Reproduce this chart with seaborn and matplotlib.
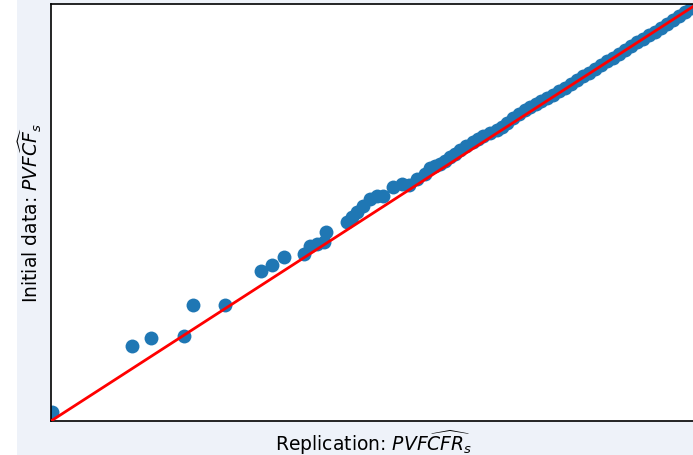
import matplotlib
matplotlib.use("Agg")
import matplotlib.pyplot as plt
import seaborn as sns
import pandas as pd
from matplotlib.patches import Rectangle

# Quantiles (normalised units, axis range 0..1)
replication_q = [0.0015, 0.125, 0.155, 0.206, 0.220, 0.270, 0.325, 0.342, 0.360, 0.391,
                 0.401, 0.411, 0.422, 0.426, 0.458, 0.466, 0.473, 0.483, 0.494, 0.505,
                 0.514, 0.529, 0.543, 0.554, 0.566, 0.579, 0.587, 0.594, 0.602, 0.610,
                 0.617, 0.625, 0.633, 0.642, 0.653, 0.661, 0.669, 0.680, 0.690, 0.698,
                 0.706, 0.715, 0.724, 0.734, 0.741, 0.751, 0.758, 0.768, 0.777, 0.786,
                 0.796, 0.805, 0.814, 0.824, 0.833, 0.842, 0.851, 0.861, 0.870, 0.879,
                 0.889, 0.898, 0.907, 0.916, 0.926, 0.935, 0.944, 0.954, 0.963, 0.972,
                 0.981, 0.991, 1.000]
initial_q = [0.022, 0.179, 0.200, 0.205, 0.278, 0.279, 0.359, 0.375, 0.393, 0.401,
             0.420, 0.424, 0.430, 0.454, 0.478, 0.489, 0.501, 0.516, 0.532, 0.540,
             0.540, 0.561, 0.568, 0.566, 0.580, 0.592, 0.607, 0.612, 0.616, 0.624,
             0.633, 0.640, 0.650, 0.659, 0.669, 0.676, 0.683, 0.691, 0.698, 0.705,
             0.715, 0.727, 0.736, 0.746, 0.753, 0.760, 0.767, 0.775, 0.782, 0.791,
             0.799, 0.808, 0.818, 0.827, 0.835, 0.844, 0.854, 0.863, 0.871, 0.880,
             0.890, 0.899, 0.909, 0.916, 0.926, 0.933, 0.942, 0.952, 0.962, 0.971,
             0.981, 0.990, 0.998]
line_ends = [0.0, 1.0]

df = pd.DataFrame({"rep": replication_q, "init": initial_q})

fig = plt.figure(figsize=(6.93, 4.56), dpi=100)
fig.patch.set_facecolor("#eef2f9")
fig.patches.append(Rectangle((0, 0), 17 / 693, 1, transform=fig.transFigure,
                             facecolor="white", edgecolor="none", zorder=-10))

ax = fig.add_axes([51 / 693, 34 / 456, 646 / 693, 417 / 456])
ax.set_facecolor("white")
sns.scatterplot(data=df, x="rep", y="init", ax=ax, s=100, color="#1f77b4",
                linewidth=0, zorder=2)
ax.plot(line_ends, line_ends, color="red", lw=2, zorder=3)
ax.set_xlim(0, 1)
ax.set_ylim(0, 1)
ax.set_xticks([])
ax.set_yticks([])
for sp in ax.spines.values():
    sp.set_color("black")
    sp.set_linewidth(1.2)
ax.set_xlabel(r"Replication: $PVF\widehat{CFR}_s$", fontsize=13.5, labelpad=5)
ax.set_ylabel(r"Initial data: $PVF\widehat{CF}_s$", fontsize=13.5, labelpad=5)

fig.savefig("out.png", dpi=100, facecolor=fig.get_facecolor())
